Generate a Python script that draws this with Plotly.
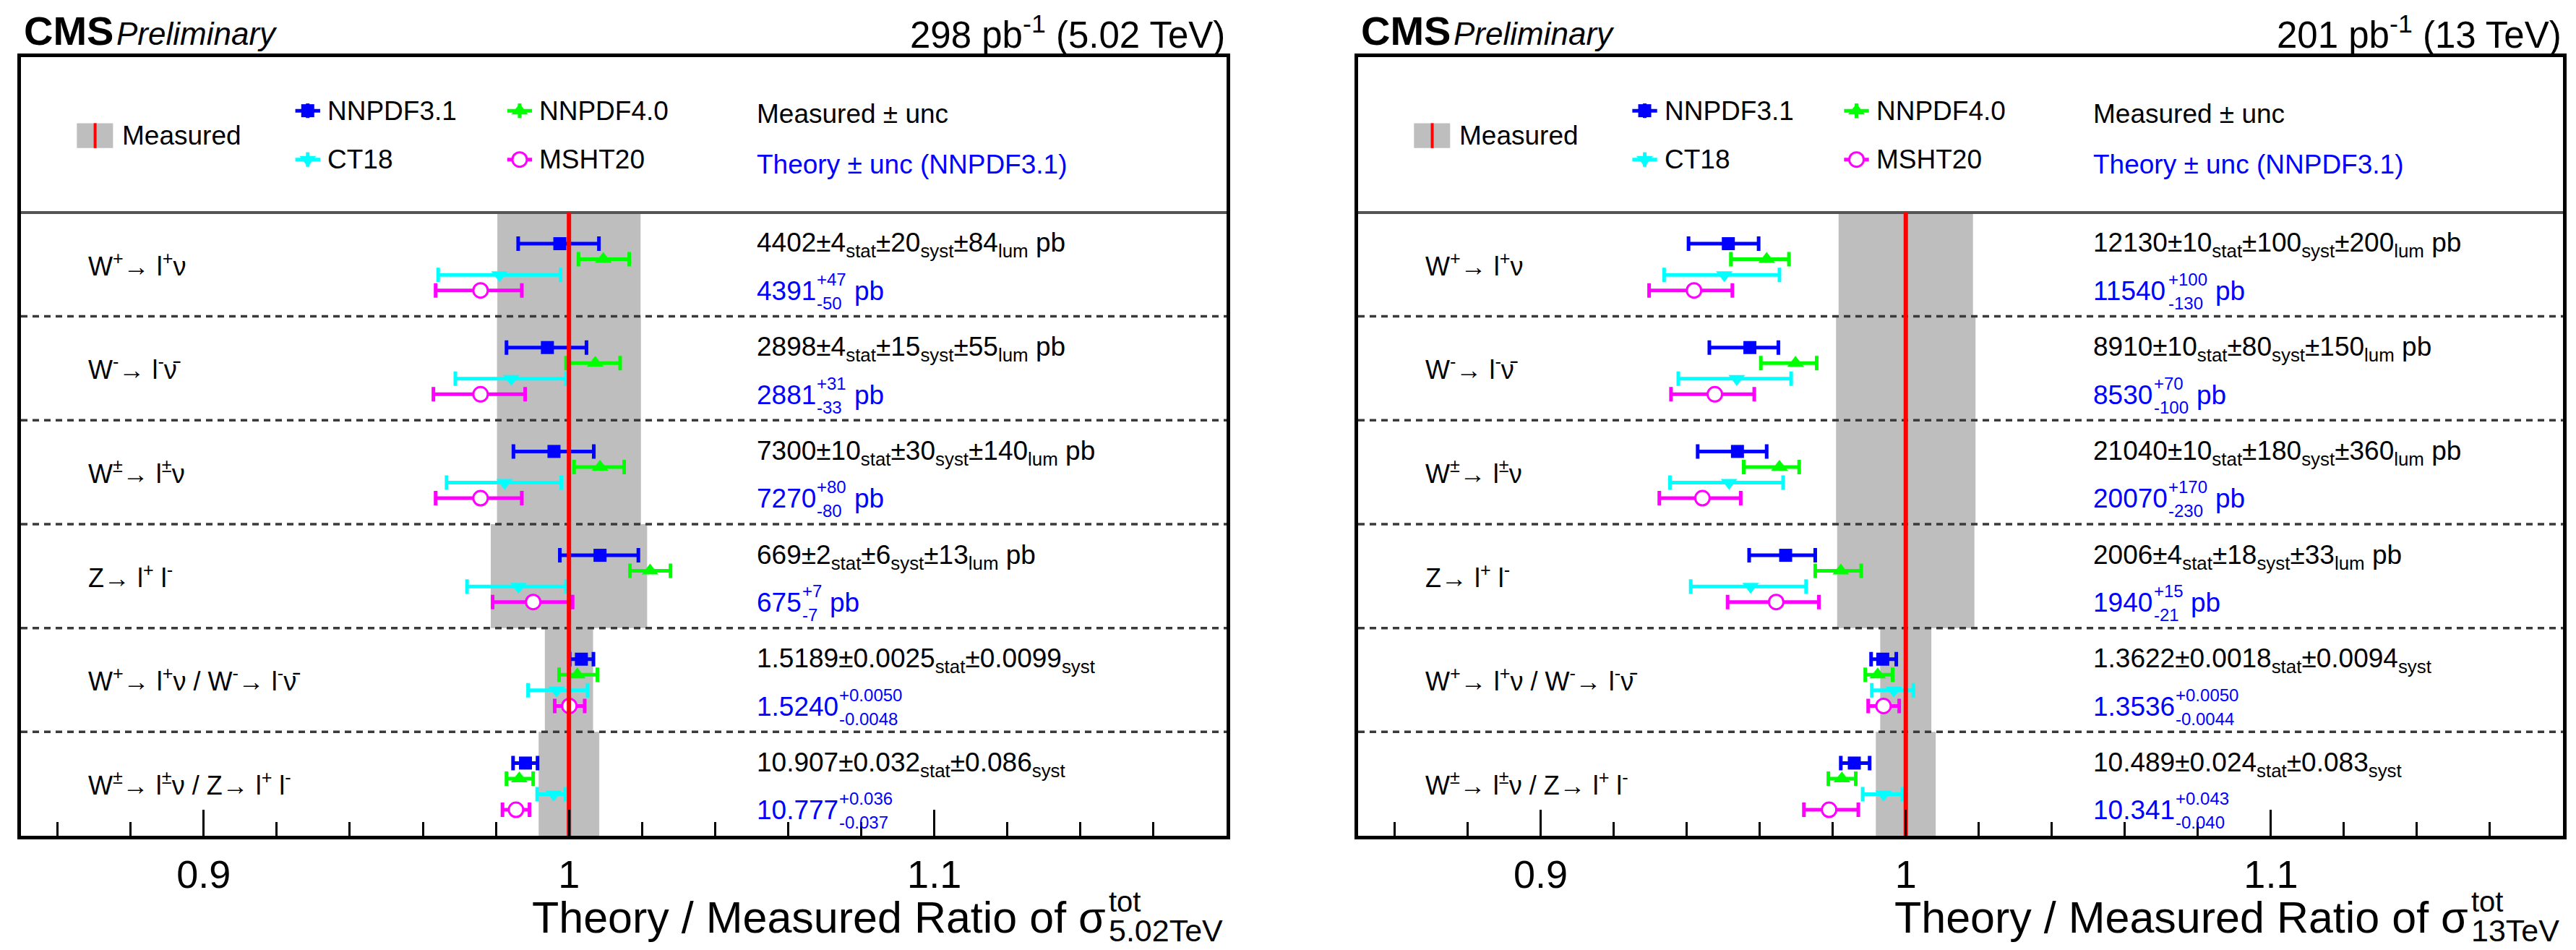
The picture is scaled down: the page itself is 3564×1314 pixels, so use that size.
import plotly.graph_objects as go

# ---------------- data ----------------
row_labels = [
    "W<sup>+</sup>→ l<sup>+</sup>ν",
    "W<sup>-</sup>→ l<sup>-</sup>\u03bd\u0304",
    "W<sup>±</sup>→ l<sup>±</sup>ν",
    "Z→ l<sup>+</sup> l<sup>-</sup>",
    "W<sup>+</sup>→ l<sup>+</sup>ν / W<sup>-</sup>→ l<sup>-</sup>\u03bd\u0304",
    "W<sup>±</sup>→ l<sup>±</sup>ν / Z→ l<sup>+</sup> l<sup>-</sup>",
]
pdf_names = ["NNPDF3.1", "NNPDF4.0", "CT18", "MSHT20"]

# relative total uncertainty of the measurement (half width of grey band)
meas_unc_502 = [0.0196, 0.0197, 0.0197, 0.0214, 0.0066, 0.0083]
meas_unc_13 = [0.0184, 0.0191, 0.0191, 0.0188, 0.0070, 0.0082]

# theory / measured ratios: centre, minus, plus  (5.02 TeV)
nnpdf31_502 = [0.9975, 0.9941, 0.9959, 1.0085, 1.0034, 0.9881]
nnpdf31_502_m = [0.0114, 0.0112, 0.0111, 0.0110, 0.0032, 0.0034]
nnpdf31_502_p = [0.0107, 0.0107, 0.0109, 0.0105, 0.0033, 0.0033]
nnpdf40_502 = [1.0094, 1.0072, 1.0085, 1.0222, 1.0023, 0.9864]
nnpdf40_502_m = [0.0068, 0.0080, 0.0071, 0.0055, 0.0050, 0.0035]
nnpdf40_502_p = [0.0071, 0.0068, 0.0066, 0.0056, 0.0055, 0.0038]
ct18_502 = [0.9810, 0.9842, 0.9824, 0.9862, 0.9966, 0.9958]
ct18_502_m = [0.0168, 0.0153, 0.0159, 0.0141, 0.0078, 0.0045]
ct18_502_p = [0.0167, 0.0150, 0.0155, 0.0130, 0.0085, 0.0032]
msht20_502 = [0.9758, 0.9758, 0.9758, 0.9902, 1.0001, 0.9855]
msht20_502_m = [0.0123, 0.0129, 0.0123, 0.0111, 0.0040, 0.0037]
msht20_502_p = [0.0113, 0.0122, 0.0113, 0.0108, 0.0042, 0.0037]

# 13 TeV
nnpdf31_13 = [0.9514, 0.9573, 0.9539, 0.9671, 0.9937, 0.9859]
nnpdf31_13_m = [0.0109, 0.0111, 0.0109, 0.0100, 0.0032, 0.0037]
nnpdf31_13_p = [0.0083, 0.0078, 0.0080, 0.0081, 0.0037, 0.0042]
nnpdf40_13 = [0.9619, 0.9698, 0.9654, 0.9822, 0.9923, 0.9825]
nnpdf40_13_m = [0.0098, 0.0095, 0.0098, 0.0070, 0.0034, 0.0037]
nnpdf40_13_p = [0.0061, 0.0058, 0.0054, 0.0056, 0.0041, 0.0038]
ct18_13 = [0.9503, 0.9537, 0.9516, 0.9575, 0.9967, 0.9939]
ct18_13_m = [0.0165, 0.0160, 0.0162, 0.0164, 0.0060, 0.0057]
ct18_13_p = [0.0151, 0.0149, 0.0148, 0.0152, 0.0054, 0.0051]
msht20_13 = [0.9420, 0.9477, 0.9443, 0.9645, 0.9939, 0.9790]
msht20_13_m = [0.0123, 0.0120, 0.0118, 0.0133, 0.0042, 0.0069]
msht20_13_p = [0.0105, 0.0108, 0.0105, 0.0117, 0.0043, 0.0080]

meas_text_502 = [
    "4402±4<sub>stat</sub>±20<sub>syst</sub>±84<sub>lum</sub> pb",
    "2898±4<sub>stat</sub>±15<sub>syst</sub>±55<sub>lum</sub> pb",
    "7300±10<sub>stat</sub>±30<sub>syst</sub>±140<sub>lum</sub> pb",
    "669±2<sub>stat</sub>±6<sub>syst</sub>±13<sub>lum</sub> pb",
    "1.5189±0.0025<sub>stat</sub>±0.0099<sub>syst</sub>",
    "10.907±0.032<sub>stat</sub>±0.086<sub>syst</sub>",
]
meas_text_13 = [
    "12130±10<sub>stat</sub>±100<sub>syst</sub>±200<sub>lum</sub> pb",
    "8910±10<sub>stat</sub>±80<sub>syst</sub>±150<sub>lum</sub> pb",
    "21040±10<sub>stat</sub>±180<sub>syst</sub>±360<sub>lum</sub> pb",
    "2006±4<sub>stat</sub>±18<sub>syst</sub>±33<sub>lum</sub> pb",
    "1.3622±0.0018<sub>stat</sub>±0.0094<sub>syst</sub>",
    "10.489±0.024<sub>stat</sub>±0.083<sub>syst</sub>",
]
theo_val_502 = ["4391", "2881", "7270", "675", "1.5240", "10.777"]
theo_up_502 = ["+47", "+31", "+80", "+7", "+0.0050", "+0.036"]
theo_dn_502 = ["-50", "-33", "-80", "-7", "-0.0048", "-0.037"]
theo_unit_502 = ["pb", "pb", "pb", "pb", "", ""]
theo_val_13 = ["11540", "8530", "20070", "1940", "1.3536", "10.341"]
theo_up_13 = ["+100", "+70", "+170", "+15", "+0.0050", "+0.043"]
theo_dn_13 = ["-130", "-100", "-230", "-21", "-0.0044", "-0.040"]
theo_unit_13 = ["pb", "pb", "pb", "pb", "", ""]

x_ticks = [0.9, 1.0, 1.1]
x_tick_text = ["0.9", "1", "1.1"]
x_range = [0.85, 1.18]

# ---------------- style ----------------
W, H = 3564, 1314
FONT = "Liberation Sans, Arial, Helvetica, sans-serif"
BLUE, GREEN, CYAN, MAG = "#0000ff", "#00ff00", "#00ffff", "#ff00ff"
GREY = "#bebebe"
pdf_colors = [BLUE, GREEN, CYAN, MAG]
pdf_symbols = ["square", "triangle-up", "triangle-down", "circle"]
pdf_sizes = [18, 20, 20, 20]
pdf_offsets = [0.30, 0.45, 0.60, 0.75]   # below row top
NROW = 6
Y_TOP = 7.496

CW = {".": 0.278, "+": 0.584, "-": 0.333, "±": 0.549, " ": 0.278, "T": 0.611, "e": 0.556, "V": 0.667}


def text_w(s, size):
    return sum(CW.get(c, 0.556) for c in s) * size


fig = go.Figure()
annos = []

panels = [
    dict(xa="x", ya="y", unc=meas_unc_502,
         ratios=[(nnpdf31_502, nnpdf31_502_m, nnpdf31_502_p),
                 (nnpdf40_502, nnpdf40_502_m, nnpdf40_502_p),
                 (ct18_502, ct18_502_m, ct18_502_p),
                 (msht20_502, msht20_502_m, msht20_502_p)],
         meas=meas_text_502, tv=theo_val_502, tu=theo_up_502, td=theo_dn_502, tunit=theo_unit_502,
         left=29, right=1697, lumi="298 pb<sup>-1</sup> (5.02 TeV)", sub="5.02TeV"),
    dict(xa="x2", ya="y2", unc=meas_unc_13,
         ratios=[(nnpdf31_13, nnpdf31_13_m, nnpdf31_13_p),
                 (nnpdf40_13, nnpdf40_13_m, nnpdf40_13_p),
                 (ct18_13, ct18_13_m, ct18_13_p),
                 (msht20_13, msht20_13_m, msht20_13_p)],
         meas=meas_text_13, tv=theo_val_13, tu=theo_up_13, td=theo_dn_13, tunit=theo_unit_13,
         left=1879, right=3546, lumi="201 pb<sup>-1</sup> (13 TeV)", sub="13TeV"),
]


def marker_for(j):
    col = pdf_colors[j]
    if j == 3:
        return dict(symbol="circle", size=pdf_sizes[j], color="white", line=dict(color=col, width=3))
    return dict(symbol=pdf_symbols[j], size=pdf_sizes[j], color=col, line=dict(width=0))


for p in panels:
    xa, ya = p["xa"], p["ya"]
    # grey bands
    bx, by = [], []
    for k, u in enumerate(p["unc"]):
        top, bot = NROW - k, NROW - k - 1
        bx += [1 - u, 1 + u, 1 + u, 1 - u, 1 - u, None]
        by += [top, top, bot, bot, top, None]
    fig.add_trace(go.Scatter(x=bx, y=by, mode="lines", fill="toself", fillcolor=GREY,
                             line=dict(width=0, color=GREY), xaxis=xa, yaxis=ya, hoverinfo="skip"))
    # dashed row separators
    dx, dy = [], []
    for b in range(1, NROW):
        dx += [x_range[0], x_range[1], None]
        dy += [b, b, None]
    fig.add_trace(go.Scatter(x=dx, y=dy, mode="lines", line=dict(color="#3a3a3a", width=3.5, dash="9px,7px"),
                             xaxis=xa, yaxis=ya, hoverinfo="skip"))
    fig.add_trace(go.Scatter(x=x_range, y=[NROW, NROW], mode="lines", line=dict(color="#555555", width=4),
                             xaxis=xa, yaxis=ya, hoverinfo="skip"))
    # theory points
    for j, (c, m, pl) in enumerate(p["ratios"]):
        ys = [NROW - k - pdf_offsets[j] for k in range(NROW)]
        col = pdf_colors[j]
        fig.add_trace(go.Scatter(
            x=c, y=ys, mode="markers", marker=marker_for(j),
            error_x=dict(type="data", symmetric=False, array=pl, arrayminus=m,
                         color=col, thickness=5, width=10),
            xaxis=xa, yaxis=ya, name=pdf_names[j]))
    # red measured line
    fig.add_trace(go.Scatter(x=[1, 1], y=[0, NROW], mode="lines", line=dict(color="#ff0000", width=6),
                             xaxis=xa, yaxis=ya, hoverinfo="skip"))

    # legend block
    fig.add_trace(go.Scatter(x=[0.8653, 0.8752, 0.8752, 0.8653, 0.8653], y=[6.86, 6.86, 6.62, 6.62, 6.86],
                             mode="lines", fill="toself", fillcolor=GREY, line=dict(width=0, color=GREY),
                             xaxis=xa, yaxis=ya, hoverinfo="skip"))
    fig.add_trace(go.Scatter(x=[0.8703, 0.8703], y=[6.86, 6.62], mode="lines",
                             line=dict(color="#ff0000", width=4), xaxis=xa, yaxis=ya, hoverinfo="skip"))
    leg_pos = [(0.9285, 6.98), (0.9865, 6.98), (0.9285, 6.51), (0.9865, 6.51)]
    for j, (lx, ly) in enumerate(leg_pos):
        col = pdf_colors[j]
        fig.add_trace(go.Scatter(
            x=[lx], y=[ly], mode="markers", marker=marker_for(j),
            error_x=dict(type="constant", value=0.0034, color=col, thickness=5, width=0),
            error_y=dict(type="constant", value=0.07, color=col, thickness=5, width=0),
            xaxis=xa, yaxis=ya))
        annos.append(dict(x=lx + 0.005, y=ly, xref=xa, yref=ya, text=pdf_names[j], showarrow=False,
                          xanchor="left", yanchor="middle", font=dict(size=37, color="black", family=FONT)))
    annos.append(dict(x=0.8774, y=6.74, xref=xa, yref=ya, text="Measured", showarrow=False,
                      xanchor="left", yanchor="middle", font=dict(size=37, color="black", family=FONT)))
    annos.append(dict(x=1.051, y=6.95, xref=xa, yref=ya, text="Measured ± unc", showarrow=False,
                      xanchor="left", yanchor="middle", font=dict(size=37, color="black", family=FONT)))
    annos.append(dict(x=1.051, y=6.46, xref=xa, yref=ya, text="Theory ± unc (NNPDF3.1)", showarrow=False,
                      xanchor="left", yanchor="middle", font=dict(size=37, color="#0000ff", family=FONT)))

    # row labels and numbers
    for k in range(NROW):
        top = NROW - k
        annos.append(dict(x=0.868, y=top - 0.5, xref=xa, yref=ya, text=row_labels[k], showarrow=False,
                          xanchor="left", yanchor="middle", font=dict(size=36, color="black", family=FONT)))
        annos.append(dict(x=1.051, y=top - 0.31, xref=xa, yref=ya, text=p["meas"][k], showarrow=False,
                          xanchor="left", yanchor="middle", font=dict(size=37, color="black", family=FONT)))
        yv = top - 0.755
        wmain = text_w(p["tv"][k], 37)
        annos.append(dict(x=1.051, y=yv, xref=xa, yref=ya, text=p["tv"][k], showarrow=False,
                          xanchor="left", yanchor="middle", font=dict(size=37, color="#0000ff", family=FONT)))
        annos.append(dict(x=1.051, y=yv, xref=xa, yref=ya, text=p["tu"][k], showarrow=False,
                          xanchor="left", yanchor="middle", xshift=wmain + 1, yshift=16,
                          font=dict(size=24, color="#0000ff", family=FONT)))
        annos.append(dict(x=1.051, y=yv, xref=xa, yref=ya, text=p["td"][k], showarrow=False,
                          xanchor="left", yanchor="middle", xshift=wmain + 1, yshift=-17,
                          font=dict(size=24, color="#0000ff", family=FONT)))
        if p["tunit"][k]:
            wsup = max(text_w(p["tu"][k], 24), text_w(p["td"][k], 24))
            annos.append(dict(x=1.051, y=yv, xref=xa, yref=ya, text=p["tunit"][k], showarrow=False,
                              xanchor="left", yanchor="middle", xshift=wmain + wsup + 12,
                              font=dict(size=37, color="#0000ff", family=FONT)))

    # header
    L, R = p["left"], p["right"]
    annos.append(dict(x=(L + 2) / W, y=1 - 43 / H, xref="paper", yref="paper", text="<b>CMS</b>",
                      showarrow=False, xanchor="left", yanchor="middle",
                      font=dict(size=56, color="black", family=FONT)))
    annos.append(dict(x=(L + 130) / W, y=1 - 47 / H, xref="paper", yref="paper", text="<i>Preliminary</i>",
                      showarrow=False, xanchor="left", yanchor="middle",
                      font=dict(size=44, color="black", family=FONT)))
    annos.append(dict(x=R / W, y=1 - 45 / H, xref="paper", yref="paper", text=p["lumi"],
                      showarrow=False, xanchor="right", yanchor="middle",
                      font=dict(size=51, color="black", family=FONT)))
    # x-axis title with stacked super/subscript
    subw = text_w(p["sub"], 43)
    annos.append(dict(x=(R - subw - 2) / W, y=1 - 1269 / H, xref="paper", yref="paper",
                      text="Theory / Measured Ratio of σ", showarrow=False, xanchor="right", yanchor="middle",
                      font=dict(size=61, color="black", family=FONT)))
    annos.append(dict(x=(R - subw - 2) / W, y=1 - 1247 / H, xref="paper", yref="paper", text="tot",
                      showarrow=False, xanchor="left", yanchor="middle",
                      font=dict(size=40, color="black", family=FONT)))
    annos.append(dict(x=(R - subw - 2) / W, y=1 - 1313 / H, xref="paper", yref="paper", text=p["sub"],
                      showarrow=False, xanchor="left", yanchor="bottom",
                      font=dict(size=43, color="black", family=FONT)))

ydom = [(H - 1156) / H, (H - 79) / H]
xax = dict(range=x_range, showline=True, linecolor="black", linewidth=5, mirror=True,
           ticks="inside", ticklen=36, tickwidth=3, tickcolor="black",
           tickmode="array", tickvals=x_ticks, ticktext=x_tick_text,
           minor=dict(ticks="inside", ticklen=19, tickwidth=3, tickcolor="black",
                      tickmode="linear", tick0=0.86, dtick=0.02, showgrid=False),
           tickfont=dict(size=54, color="black", family=FONT), ticklabelstandoff=2,
           showgrid=False, zeroline=False, fixedrange=True)
yax = dict(range=[0, Y_TOP], showline=True, linecolor="black", linewidth=5, mirror=True,
           ticks="", showticklabels=False, showgrid=False, zeroline=False, fixedrange=True)

fig.update_layout(
    width=W, height=H, margin=dict(l=0, r=0, t=0, b=0),
    paper_bgcolor="white", plot_bgcolor="white", showlegend=False,
    font=dict(family=FONT, color="black"),
    xaxis=dict(xax, domain=[29 / W, 1697 / W], anchor="y"),
    yaxis=dict(yax, domain=ydom, anchor="x"),
    xaxis2=dict(xax, domain=[1879 / W, 3546 / W], anchor="y2"),
    yaxis2=dict(yax, domain=ydom, anchor="x2"),
    annotations=annos,
)

fig.write_html("out.html")
